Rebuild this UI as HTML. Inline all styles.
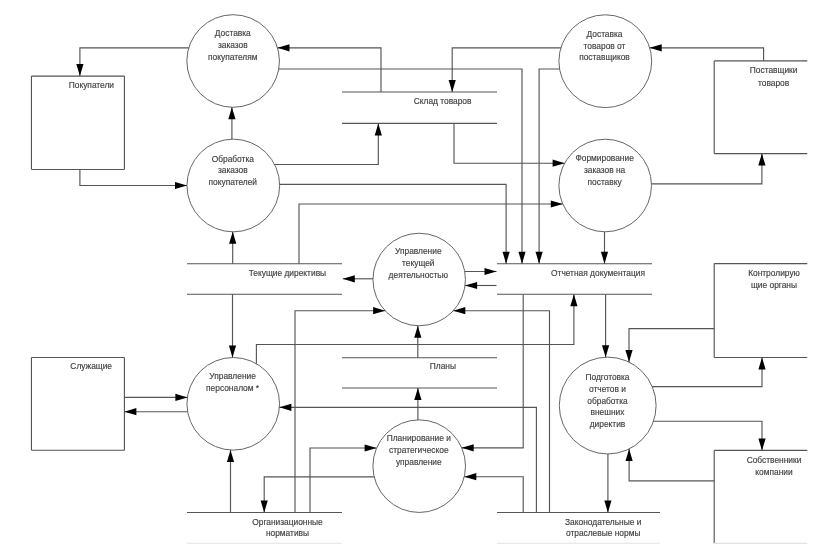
<!DOCTYPE html>
<html><head><meta charset="utf-8"><style>
html,body{margin:0;padding:0;background:#fff;}
body{width:835px;height:555px;overflow:hidden;}
svg{display:block;will-change:transform;}
text{font-family:"Liberation Sans",sans-serif;fill:#404040;stroke:#404040;stroke-width:0.15px;}
</style></head><body>
<svg width="835" height="555" viewBox="0 0 835 555">
<rect width="835" height="555" fill="#fff"/>
<path d="M31.45,76.1 L124.4,76.1" stroke="#555555" stroke-width="1.15"/>
<path d="M31.45,76.1 L31.45,169.5" stroke="#555555" stroke-width="1.15"/>
<path d="M31.45,169.5 L124.4,169.5" stroke="#555555" stroke-width="1.15"/>
<path d="M124.4,76.1 L124.4,169.5" stroke="#555555" stroke-width="1.15"/>
<path d="M31.45,357.5 L124.4,357.5" stroke="#555555" stroke-width="1.15"/>
<path d="M31.45,357.5 L31.45,450.2" stroke="#555555" stroke-width="1.15"/>
<path d="M31.45,450.2 L124.4,450.2" stroke="#555555" stroke-width="1.15"/>
<path d="M124.4,357.5 L124.4,450.2" stroke="#555555" stroke-width="1.15"/>
<path d="M714.2,60.9 L807.3,60.9" stroke="#555555" stroke-width="1.15"/>
<path d="M714.2,60.9 L714.2,153.6" stroke="#555555" stroke-width="1.15"/>
<path d="M714.2,153.6 L807.3,153.6" stroke="#555555" stroke-width="1.15"/>
<path d="M714.2,263.6 L807.3,263.6" stroke="#555555" stroke-width="1.15"/>
<path d="M714.2,263.6 L714.2,357.5" stroke="#555555" stroke-width="1.15"/>
<path d="M714.2,357.5 L807.3,357.5" stroke="#555555" stroke-width="1.15"/>
<path d="M714.2,450.4 L807.3,450.4" stroke="#555555" stroke-width="1.15"/>
<path d="M714.2,450.4 L714.2,543.3" stroke="#555555" stroke-width="1.15"/>
<path d="M714.2,543.3 L807.3,543.3" stroke="#e2e2e2" stroke-width="1.15"/>
<path d="M342,92.0 L497,92.0" stroke="#555555" stroke-width="1.15"/>
<path d="M342,123.4 L497,123.4" stroke="#555555" stroke-width="1.15"/>
<path d="M187,263.7 L342,263.7" stroke="#555555" stroke-width="1.15"/>
<path d="M187,294.2 L342,294.2" stroke="#555555" stroke-width="1.15"/>
<path d="M497,263.7 L652,263.7" stroke="#555555" stroke-width="1.15"/>
<path d="M497,294.2 L652,294.2" stroke="#555555" stroke-width="1.15"/>
<path d="M342,357.7 L497,357.7" stroke="#555555" stroke-width="1.15"/>
<path d="M342,388.0 L497,388.0" stroke="#555555" stroke-width="1.15"/>
<path d="M187,512.5 L342,512.5" stroke="#555555" stroke-width="1.15"/>
<path d="M187,543.2 L342,543.2" stroke="#e2e2e2" stroke-width="1.15"/>
<path d="M497,512.5 L660,512.5" stroke="#555555" stroke-width="1.15"/>
<path d="M497,543.2 L660,543.2" stroke="#e2e2e2" stroke-width="1.15"/>
<circle cx="233.15" cy="61.0" r="46.3" fill="none" stroke="#666666" stroke-width="1.0"/>
<circle cx="233.3" cy="185.5" r="46.35" fill="none" stroke="#666666" stroke-width="1.0"/>
<circle cx="605.3" cy="61.2" r="46.4" fill="none" stroke="#666666" stroke-width="1.0"/>
<circle cx="605.2" cy="185.5" r="46.3" fill="none" stroke="#666666" stroke-width="1.0"/>
<circle cx="419.2" cy="279.5" r="46.25" fill="none" stroke="#666666" stroke-width="1.0"/>
<circle cx="233.25" cy="403.8" r="46.3" fill="none" stroke="#666666" stroke-width="1.0"/>
<circle cx="419.2" cy="466.15" r="46.3" fill="none" stroke="#666666" stroke-width="1.0"/>
<circle cx="607.7" cy="405.55" r="48.4" fill="none" stroke="#666666" stroke-width="1.0"/>
<path d="M188.8,47.8 L79.9,47.8 L79.9,76.1" fill="none" stroke="#555555" stroke-width="1.15"/>
<polygon points="79.9,76.1 76.3,64.1 83.5,64.1" fill="#000"/>
<path d="M381.0,92.0 L381.0,47.8 L277.5,47.8" fill="none" stroke="#555555" stroke-width="1.15"/>
<polygon points="277.5,47.8 289.5,44.2 289.5,51.4" fill="#000"/>
<path d="M278.8,69.0 L522.0,69.0 L522.0,263.7" fill="none" stroke="#555555" stroke-width="1.15"/>
<polygon points="522.0,263.7 518.4,251.7 525.6,251.7" fill="#000"/>
<path d="M560.9,47.8 L452.2,47.8 L452.2,92.0" fill="none" stroke="#555555" stroke-width="1.15"/>
<polygon points="452.2,92.0 448.6,80.0 455.8,80.0" fill="#000"/>
<path d="M763.6,60.9 L763.6,47.8 L649.7,47.8" fill="none" stroke="#555555" stroke-width="1.15"/>
<polygon points="649.7,47.8 661.7,44.2 661.7,51.4" fill="#000"/>
<path d="M559.6,69.0 L539.1,69.0 L539.1,263.7" fill="none" stroke="#555555" stroke-width="1.15"/>
<polygon points="539.1,263.7 535.5,251.7 542.7,251.7" fill="#000"/>
<path d="M231.9,139.2 L231.9,107.3" fill="none" stroke="#555555" stroke-width="1.15"/>
<polygon points="231.9,107.3 228.3,119.3 235.5,119.3" fill="#000"/>
<path d="M79.9,169.5 L79.9,185.5 L187.0,185.5" fill="none" stroke="#555555" stroke-width="1.15"/>
<polygon points="187.0,185.5 175.0,181.9 175.0,189.1" fill="#000"/>
<path d="M274.6,164.5 L378.3,164.5 L378.3,123.4" fill="none" stroke="#555555" stroke-width="1.15"/>
<polygon points="378.3,123.4 374.7,135.4 381.9,135.4" fill="#000"/>
<path d="M279.6,184.4 L506.1,184.4 L506.1,263.7" fill="none" stroke="#555555" stroke-width="1.15"/>
<polygon points="506.1,263.7 502.5,251.7 509.7,251.7" fill="#000"/>
<path d="M299.0,263.7 L299.0,204.0 L562.8,204.0" fill="none" stroke="#555555" stroke-width="1.15"/>
<polygon points="562.8,204.0 550.8,200.4 550.8,207.6" fill="#000"/>
<path d="M454.0,123.4 L454.0,163.2 L564.6,163.2" fill="none" stroke="#555555" stroke-width="1.15"/>
<polygon points="564.6,163.2 552.6,159.6 552.6,166.8" fill="#000"/>
<path d="M651.5,183.9 L761.9,183.9 L761.9,153.6" fill="none" stroke="#555555" stroke-width="1.15"/>
<polygon points="761.9,153.6 758.3,165.6 765.5,165.6" fill="#000"/>
<path d="M604.5,231.8 L604.5,263.7" fill="none" stroke="#555555" stroke-width="1.15"/>
<polygon points="604.5,263.7 600.9,251.7 608.1,251.7" fill="#000"/>
<path d="M232.7,263.7 L232.7,231.8" fill="none" stroke="#555555" stroke-width="1.15"/>
<polygon points="232.7,231.8 229.1,243.8 236.3,243.8" fill="#000"/>
<path d="M373.0,278.8 L342.8,278.8" fill="none" stroke="#555555" stroke-width="1.15"/>
<polygon points="342.8,278.8 354.8,275.2 354.8,282.4" fill="#000"/>
<path d="M232.5,294.2 L232.5,357.5" fill="none" stroke="#555555" stroke-width="1.15"/>
<polygon points="232.5,357.5 228.9,345.5 236.1,345.5" fill="#000"/>
<path d="M464.8,271.5 L496.5,271.5" fill="none" stroke="#555555" stroke-width="1.15"/>
<polygon points="496.5,271.5 484.5,267.9 484.5,275.1" fill="#000"/>
<path d="M496.5,285.5 L465.1,285.5" fill="none" stroke="#555555" stroke-width="1.15"/>
<polygon points="465.1,285.5 477.1,281.9 477.1,289.1" fill="#000"/>
<path d="M295.0,512.5 L295.0,310.7 L385.1,310.7" fill="none" stroke="#555555" stroke-width="1.15"/>
<polygon points="385.1,310.7 373.1,307.1 373.1,314.3" fill="#000"/>
<path d="M549.5,512.5 L549.5,310.7 L453.3,310.7" fill="none" stroke="#555555" stroke-width="1.15"/>
<polygon points="453.3,310.7 465.3,307.1 465.3,314.3" fill="#000"/>
<path d="M256.4,363.7 L256.4,344.5 L573.9,344.5 L573.9,294.2" fill="none" stroke="#555555" stroke-width="1.15"/>
<polygon points="573.9,294.2 570.3,306.2 577.5,306.2" fill="#000"/>
<path d="M417.8,357.7 L417.8,325.7" fill="none" stroke="#555555" stroke-width="1.15"/>
<polygon points="417.8,325.7 414.2,337.7 421.4,337.7" fill="#000"/>
<path d="M605.6,294.2 L605.6,357.2" fill="none" stroke="#555555" stroke-width="1.15"/>
<polygon points="605.6,357.2 602.0,345.2 609.2,345.2" fill="#000"/>
<path d="M714.2,328.6 L629.0,328.6 L629.0,362.1" fill="none" stroke="#555555" stroke-width="1.15"/>
<polygon points="629.0,362.1 625.4,350.1 632.6,350.1" fill="#000"/>
<path d="M652.2,386.6 L762.0,386.6 L762.0,357.5" fill="none" stroke="#555555" stroke-width="1.15"/>
<polygon points="762.0,357.5 758.4,369.5 765.6,369.5" fill="#000"/>
<path d="M653.5,421.2 L762.0,421.2 L762.0,450.4" fill="none" stroke="#555555" stroke-width="1.15"/>
<polygon points="762.0,450.4 758.4,438.4 765.6,438.4" fill="#000"/>
<path d="M714.2,480.8 L629.1,480.8 L629.1,449.0" fill="none" stroke="#555555" stroke-width="1.15"/>
<polygon points="629.1,449.0 625.5,461.0 632.7,461.0" fill="#000"/>
<path d="M607.9,453.9 L607.9,512.5" fill="none" stroke="#555555" stroke-width="1.15"/>
<polygon points="607.9,512.5 604.3,500.5 611.5,500.5" fill="#000"/>
<path d="M124.4,397.4 L187.4,397.4" fill="none" stroke="#555555" stroke-width="1.15"/>
<polygon points="187.4,397.4 175.4,393.8 175.4,401.0" fill="#000"/>
<path d="M187.6,411.7 L124.4,411.7" fill="none" stroke="#555555" stroke-width="1.15"/>
<polygon points="124.4,411.7 136.4,408.1 136.4,415.3" fill="#000"/>
<path d="M536.4,512.5 L536.4,407.3 L279.4,407.3" fill="none" stroke="#555555" stroke-width="1.15"/>
<polygon points="279.4,407.3 291.4,403.7 291.4,410.9" fill="#000"/>
<path d="M230.5,512.5 L230.5,450.0" fill="none" stroke="#555555" stroke-width="1.15"/>
<polygon points="230.5,450.0 226.9,462.0 234.1,462.0" fill="#000"/>
<path d="M417.9,419.9 L417.9,388.0" fill="none" stroke="#555555" stroke-width="1.15"/>
<polygon points="417.9,388.0 414.3,400.0 421.5,400.0" fill="#000"/>
<path d="M310.0,512.5 L310.0,448.0 L376.6,448.0" fill="none" stroke="#555555" stroke-width="1.15"/>
<polygon points="376.6,448.0 364.6,444.4 364.6,451.6" fill="#000"/>
<path d="M523.2,294.2 L523.2,447.8 L461.7,447.8" fill="none" stroke="#555555" stroke-width="1.15"/>
<polygon points="461.7,447.8 473.7,444.2 473.7,451.4" fill="#000"/>
<path d="M523.2,512.5 L523.2,476.7 L464.3,476.7" fill="none" stroke="#555555" stroke-width="1.15"/>
<polygon points="464.3,476.7 476.3,473.1 476.3,480.3" fill="#000"/>
<path d="M374.1,476.8 L264.2,476.8 L264.2,512.5" fill="none" stroke="#555555" stroke-width="1.15"/>
<polygon points="264.2,512.5 260.6,500.5 267.8,500.5" fill="#000"/>
<g>
<text x="232.8" y="36.3" text-anchor="middle" font-size="8.4">Доставка</text>
<text x="232.8" y="48.1" text-anchor="middle" font-size="8.4">заказов</text>
<text x="232.8" y="59.6" text-anchor="middle" font-size="8.4">покупателям</text>
<text x="232.8" y="161.5" text-anchor="middle" font-size="8.4">Обработка</text>
<text x="232.8" y="173.2" text-anchor="middle" font-size="8.4">заказов</text>
<text x="232.8" y="184.5" text-anchor="middle" font-size="8.4">покупателей</text>
<text x="604.5" y="36.6" text-anchor="middle" font-size="8.4">Доставка</text>
<text x="604.5" y="48.6" text-anchor="middle" font-size="8.4">товаров от</text>
<text x="604.5" y="60.1" text-anchor="middle" font-size="8.4">поставщиков</text>
<text x="604.6" y="161.3" text-anchor="middle" font-size="8.4">Формирование</text>
<text x="604.6" y="173.2" text-anchor="middle" font-size="8.4">заказов на</text>
<text x="604.6" y="184.5" text-anchor="middle" font-size="8.4">поставку</text>
<text x="418.3" y="254.1" text-anchor="middle" font-size="8.4">Управление</text>
<text x="418.3" y="266.2" text-anchor="middle" font-size="8.4">текущей</text>
<text x="418.3" y="278.0" text-anchor="middle" font-size="8.4">деятельностью</text>
<text x="232.6" y="379.1" text-anchor="middle" font-size="8.4">Управление</text>
<text x="232.6" y="390.5" text-anchor="middle" font-size="8.4">персоналом *</text>
<text x="418.8" y="441.4" text-anchor="middle" font-size="8.4">Планирование и</text>
<text x="418.8" y="453.0" text-anchor="middle" font-size="8.4">стратегическое</text>
<text x="418.8" y="465.4" text-anchor="middle" font-size="8.4">управление</text>
<text x="607.5" y="379.7" text-anchor="middle" font-size="8.4">Подготовка</text>
<text x="607.5" y="391.6" text-anchor="middle" font-size="8.4">отчетов и</text>
<text x="607.5" y="403.5" text-anchor="middle" font-size="8.4">обработка</text>
<text x="607.5" y="415.4" text-anchor="middle" font-size="8.4">внешних</text>
<text x="607.5" y="427.3" text-anchor="middle" font-size="8.4">директив</text>
<text x="91.4" y="88.3" text-anchor="middle" font-size="8.4">Покупатели</text>
<text x="91.2" y="369.4" text-anchor="middle" font-size="8.4">Служащие</text>
<text x="773.6" y="73.4" text-anchor="middle" font-size="8.4">Поставщики</text>
<text x="773.6" y="85.5" text-anchor="middle" font-size="8.4">товаров</text>
<text x="774" y="276.0" text-anchor="middle" font-size="8.4">Контролирую</text>
<text x="774" y="288.1" text-anchor="middle" font-size="8.4">щие органы</text>
<text x="774" y="462.6" text-anchor="middle" font-size="8.4">Собственники</text>
<text x="774" y="474.5" text-anchor="middle" font-size="8.4">компании</text>
<text x="442.6" y="104.4" text-anchor="middle" font-size="8.4">Склад товаров</text>
<text x="287.4" y="276.0" text-anchor="middle" font-size="8.4">Текущие директивы</text>
<text x="598.0" y="276.0" text-anchor="middle" font-size="8.4">Отчетная документация</text>
<text x="442.9" y="368.9" text-anchor="middle" font-size="8.4">Планы</text>
<text x="287.5" y="525.0" text-anchor="middle" font-size="8.4">Организационные</text>
<text x="287.5" y="536.3" text-anchor="middle" font-size="8.4">нормативы</text>
<text x="603.2" y="525.0" text-anchor="middle" font-size="8.4">Законодательные и</text>
<text x="603.2" y="536.3" text-anchor="middle" font-size="8.4">отраслевые нормы</text>
</g>
</svg>
</body></html>
